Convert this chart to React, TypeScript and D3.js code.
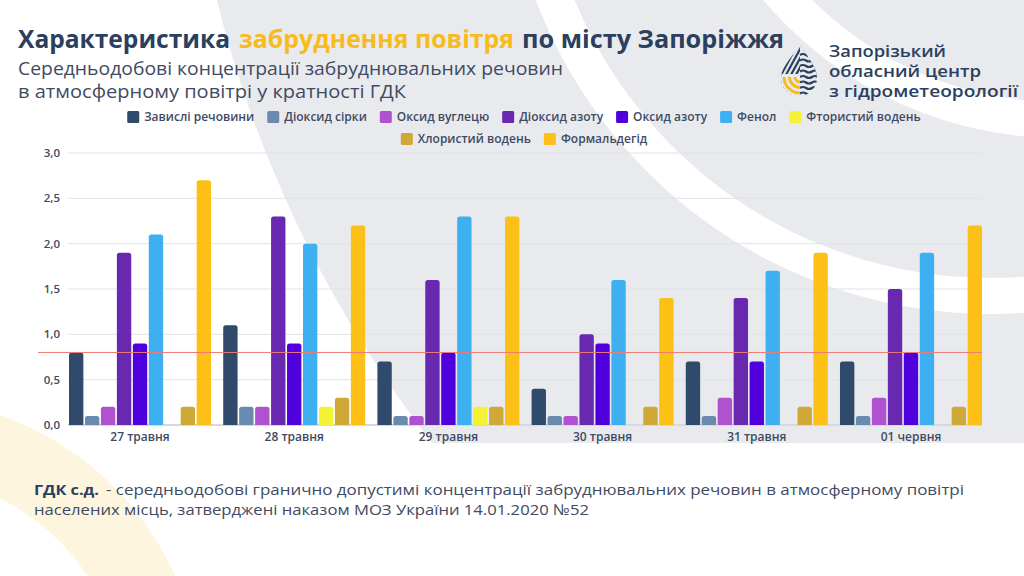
import * as React from 'react';
import { useEffect, useRef } from 'react';
import * as d3 from 'd3';

// --- data ---
const days = ['27 травня', '28 травня', '29 травня', '30 травня', '31 травня', '01 червня'];
const seriesNames = [
  'Завислі речовини',
  'Діоксид сірки',
  'Оксид вуглецю',
  'Діоксид азоту',
  'Оксид азоту',
  'Фенол',
  'Фтористий водень',
  'Хлористий водень',
  'Формальдегід',
];
const suspended = [0.8, 1.1, 0.7, 0.4, 0.7, 0.7];
const sulfurDioxide = [0.1, 0.2, 0.1, 0.1, 0.1, 0.1];
const carbonMonoxide = [0.2, 0.2, 0.1, 0.1, 0.3, 0.3];
const nitrogenDioxide = [1.9, 2.3, 1.6, 1.0, 1.4, 1.5];
const nitrogenOxide = [0.9, 0.9, 0.8, 0.9, 0.7, 0.8];
const phenol = [2.1, 2.0, 2.3, 1.6, 1.7, 1.9];
const hydrogenFluoride = [0, 0.2, 0.2, 0, 0, 0];
const hydrogenChloride = [0.2, 0.3, 0.2, 0.2, 0.2, 0.2];
const formaldehyde = [2.7, 2.2, 2.3, 1.4, 1.9, 2.2];
const seriesColors = ['#2f4a6a', '#6b8ab0', '#b052d0', '#6828b0', '#5000dc', '#3eb0f2', '#f4f234', '#cfa937', '#fcc016'];
const yTicks = [0, 0.5, 1, 1.5, 2, 2.5, 3];
const gdkLevel = 0.8;
const legendRows = [7, 2];

const allSeries = [suspended, sulfurDioxide, carbonMonoxide, nitrogenDioxide, nitrogenOxide, phenol, hydrogenFluoride, hydrogenChloride, formaldehyde];

const W = 1024;
const H = 576;
const navy = '#2b3f5e';
const textGray = '#3f4a63';
const font = '"Open Sans", "DejaVu Sans", sans-serif';

function App() {
  const ref = useRef<SVGSVGElement>(null);

  useEffect(() => {
    const svg = d3.select(ref.current);
    svg.selectAll('*').remove();

    // background shapes
    svg.append('rect').attr('width', W).attr('height', H).attr('fill', '#ffffff');
    const defs = svg.append('defs');
    defs.append('clipPath').attr('id', 'topClip').append('rect').attr('width', W).attr('height', 443);
    const bg = svg.append('g').attr('clip-path', 'url(#topClip)');
    bg.append('circle').attr('cx', 1366).attr('cy', -285).attr('r', 1184).attr('fill', '#e9eaee');
    bg.append('circle').attr('cx', 991).attr('cy', -173).attr('r', 469)
      .attr('fill', 'none').attr('stroke', '#fff').attr('stroke-width', 36);
    bg.append('circle').attr('cx', 1060).attr('cy', -250).attr('r', 370)
      .attr('fill', 'none').attr('stroke', '#fff').attr('stroke-width', 36);
    svg.append('path')
      .attr('d', d3.arc()({ innerRadius: 225, outerRadius: 302, startAngle: 0, endAngle: Math.PI * 2 } as any))
      .attr('transform', 'translate(-100,700)')
      .attr('fill', '#fdf5dd');

    // headings
    const fitted = (x0: number, x1: number, y: number, txt: string, size: number, weight: number, color: string) =>
      svg.append('text')
        .attr('x', x0).attr('y', y)
        .attr('textLength', x1 - x0).attr('lengthAdjust', 'spacingAndGlyphs')
        .attr('font-family', font).attr('font-size', size).attr('font-weight', weight)
        .attr('fill', color).text(txt);

    fitted(18, 230, 48, 'Характеристика', 25, 700, navy);
    fitted(239, 514, 48, 'забруднення повітря', 25, 700, '#f8bb1c');
    fitted(522, 784, 48, 'по місту Запоріжжя', 25, 700, navy);
    fitted(18, 563, 75, 'Середньодобові концентрації забруднювальних речовин', 18.5, 400, textGray);
    fitted(18, 406, 98, 'в атмосферному повітрі у кратності ГДК', 18.5, 400, textGray);

    fitted(829, 946, 57, 'Запорізький', 15.5, 600, navy);
    fitted(829, 981, 77, 'обласний центр', 15.5, 600, navy);
    fitted(829, 1018, 97, 'з гідрометеорології', 15.5, 600, navy);

    fitted(34, 99, 495, 'ГДК с.д.', 15, 700, navy);
    fitted(106, 964, 495, '- середньодобові гранично допустимі концентрації забруднювальних речовин в атмосферному повітрі', 15, 400, textGray);
    fitted(34, 589, 515, 'населених місць, затверджені наказом МОЗ України 14.01.2020 №52', 15, 400, textGray);

    // logo drop
    const dropPath = 'M800,44 C806,56 817,66 817,78 A18,18 0 0 1 781,78 C781,66 794,56 800,44 Z';
    defs.append('clipPath').attr('id', 'dropClip').append('path').attr('d', dropPath);
    const logo = svg.append('g').attr('clip-path', 'url(#dropClip)');
    const stripeG = logo.append('g');
    d3.range(-6, 8).forEach(i => {
      stripeG.append('line')
        .attr('x1', 770 + i * 5).attr('y1', 95)
        .attr('x2', 800 + i * 5).attr('y2', 40)
        .attr('stroke', navy).attr('stroke-width', 2.2);
    });
    logo.append('rect').attr('x', 800).attr('y', 40).attr('width', 20).attr('height', 60).attr('fill', '#e9eaee');
    d3.range(0, 8).forEach(i => {
      const y = 55 + i * 5.5;
      logo.append('path')
        .attr('d', `M800,${y} q3,-2 6,0 t6,0 t6,0`)
        .attr('fill', 'none').attr('stroke', navy).attr('stroke-width', 2.2);
    });
    logo.append('rect').attr('x', 778).attr('y', 74).attr('width', 22).attr('height', 26).attr('fill', '#e9eaee');
    [5, 10.5, 16].forEach(r => {
      logo.append('path')
        .attr('d', d3.arc()({ innerRadius: r - 1.5, outerRadius: r + 1.5, startAngle: Math.PI, endAngle: Math.PI * 1.5 } as any))
        .attr('transform', 'translate(800,77)')
        .attr('fill', '#f8bb1c');
    });

    // legend (measured and centred)
    const legend = svg.append('g');
    let idx = 0;
    legendRows.forEach((count, row) => {
      const cy = 117 + row * 22;
      const items = seriesNames.slice(idx, idx + count).map((name, k) => ({ name, color: seriesColors[idx + k] }));
      idx += count;
      const g = legend.append('g');
      let x = 0;
      items.forEach(it => {
        g.append('rect').attr('x', x).attr('y', cy - 6).attr('width', 12).attr('height', 12).attr('rx', 1.5).attr('fill', it.color);
        const t = g.append('text').attr('x', x + 17).attr('y', cy + 4)
          .attr('font-family', font).attr('font-size', 12).attr('font-weight', 600)
          .attr('fill', textGray).text(it.name);
        const w = (t.node() as SVGTextElement).getComputedTextLength();
        x += 17 + w + 13;
      });
      const total = x - 13;
      g.attr('transform', `translate(${524 - total / 2},0)`);
    });

    // scales
    const x0 = d3.scaleBand<string>().domain(days).range([63, 988]).paddingInner(0.079).paddingOuter(0.039);
    const x1 = d3.scaleBand<string>().domain(seriesNames).range([0, x0.bandwidth()]).paddingInner(0.1);
    const y = d3.scaleLinear().domain([0, 3]).range([425, 153]);

    // grid + y labels
    const grid = svg.append('g');
    yTicks.forEach(v => {
      grid.append('line')
        .attr('x1', 68).attr('x2', 982).attr('y1', y(v)).attr('y2', y(v))
        .attr('stroke', v === 0 ? '#d6d9e0' : '#dfe2e8').attr('stroke-width', v === 0 ? 2 : 1);
      grid.append('text')
        .attr('x', 60).attr('y', y(v) + 4).attr('text-anchor', 'end')
        .attr('font-family', font).attr('font-size', 11.5).attr('font-weight', 600)
        .attr('fill', textGray).text(d3.format('.1f')(v).replace('.', ','));
    });

    // bars
    const bars = svg.append('g');
    days.forEach((day, di) => {
      const g = bars.append('g').attr('transform', `translate(${x0(day)},0)`);
      seriesNames.forEach((name, si) => {
        const v = allSeries[si][di];
        if (!v) return;
        const bx = x1(name) as number;
        const bw = x1.bandwidth();
        const r = 2.5;
        g.append('path')
          .attr('d', `M${bx},${y(0)} V${y(v) + r} Q${bx},${y(v)} ${bx + r},${y(v)} H${bx + bw - r} Q${bx + bw},${y(v)} ${bx + bw},${y(v) + r} V${y(0)} Z`)
          .attr('fill', seriesColors[si]);
      });
    });

    // limit line
    svg.append('line')
      .attr('x1', 38).attr('x2', 982).attr('y1', y(gdkLevel)).attr('y2', y(gdkLevel))
      .attr('stroke', '#f07a74').attr('stroke-width', 1);

    // x labels
    const xl = svg.append('g');
    days.forEach(day => {
      xl.append('text')
        .attr('x', (x0(day) as number) + x0.bandwidth() / 2).attr('y', 441)
        .attr('text-anchor', 'middle')
        .attr('font-family', font).attr('font-size', 12).attr('font-weight', 600)
        .attr('fill', textGray).text(day);
    });
  }, []);

  return (
    <svg ref={ref} width={W} height={H} style={{ position: 'fixed', left: 0, top: 0 }} />
  );
}

export default App;
